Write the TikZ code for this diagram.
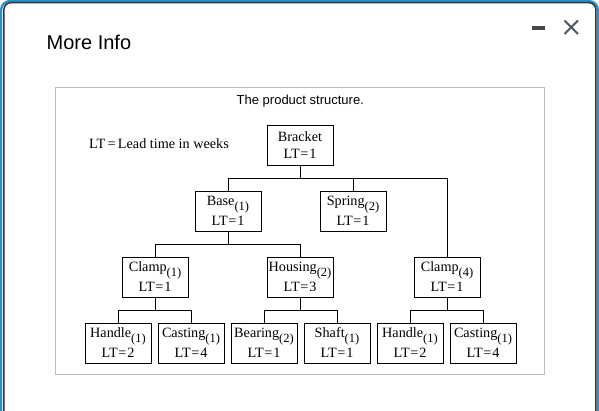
\documentclass[tikz,border=0pt]{standalone}
\usepackage{fontspec}
\setmainfont{Liberation Serif}
\newfontfamily\uisans{Liberation Sans}
\usepackage{tikz}
\usetikzlibrary{positioning,calc}
\definecolor{winblue}{HTML}{2190D6}
\definecolor{windark}{HTML}{333333}
\definecolor{framegray}{HTML}{BDBDBD}
\definecolor{icongray}{HTML}{4D5661}
\newcommand{\bomsub}[1]{\raisebox{-4.5pt}{\fontsize{12.5}{12.5}\selectfont(#1)}}
\newcommand{\bomlt}[1]{LT\hspace{0.8pt}=\hspace{0.8pt}#1}
\newcommand{\bomitem}[3]{#1\bomsub{#2}\\[3.3pt]\bomlt{#3}}

\begin{document}
\begin{tikzpicture}[x=1pt,y=-1pt,
  partbox/.style={draw,line width=0.8pt,minimum width=66pt,minimum height=40pt,inner sep=0pt,align=center,font=\fontsize{14.2}{16.7}\selectfont},
  link/.style={line width=0.9pt}]
\useasboundingbox (0,0) rectangle (599,411);
\fill[white] (0,0) rectangle (599,411);
\draw[winblue,line width=2.2pt,rounded corners=9pt] (1.1,1) rectangle (597.9,440);
\draw[windark,line width=1.5pt,rounded corners=7pt] (3.9,2.6) rectangle (595.8,440);
\node[anchor=base west,inner sep=0pt,font=\uisans\fontsize{20}{24}\selectfont] (title) at (46.5,49.3) {More Info};
\fill[windark!90] (532,26) rectangle (545.3,30.3);
\draw[icongray,line width=1.8pt] (564.5,20.5) -- (578,34) (564.5,34) -- (578,20.5);
\draw[framegray,line width=1pt] (55.5,87.5) rectangle (544,374);
\node[anchor=base,inner sep=0pt,font=\uisans\fontsize{13}{15}\selectfont] (caption) at (300.3,105) {The product structure.};
\node[anchor=base west,inner sep=0pt,font=\fontsize{14.2}{16}\selectfont] (legend) at (89,148.3) {LT\,=\,Lead time in weeks};
\node[partbox] (bracket) at (300,145) {Bracket\\\bomlt{1}};
\node[partbox] (base) at (228,211) {\bomitem{Base}{1}{1}};
\node[partbox] (spring) at (353,211) {\bomitem{Spring}{2}{1}};
\node[partbox] (clampa) at (155,277) {\bomitem{Clamp}{1}{1}};
\node[partbox] (housing) at (300,277) {\bomitem{Housing}{2}{3}};
\node[partbox] (clampd) at (447,277) {\bomitem{Clamp}{4}{1}};
\node[partbox] (handlea) at (118,343) {\bomitem{Handle}{1}{2}};
\node[partbox] (castinga) at (191,343) {\bomitem{Casting}{1}{4}};
\node[partbox] (bearing) at (264,343) {\bomitem{Bearing}{2}{1}};
\node[partbox] (shaft) at (337,343) {\bomitem{Shaft}{1}{1}};
\node[partbox] (handleb) at (410,343) {\bomitem{Handle}{1}{2}};
\node[partbox] (castingb) at (483,343) {\bomitem{Casting}{1}{4}};
\foreach \up/\down in {bracket/base,bracket/spring,bracket/clampd,base/clampa,base/housing,clampa/handlea,clampa/castinga,housing/bearing,housing/shaft,clampd/handleb,clampd/castingb}
  \draw[link] (\up.south) -- ++(0,13.5) -| (\down.north);
\end{tikzpicture}
\end{document}
